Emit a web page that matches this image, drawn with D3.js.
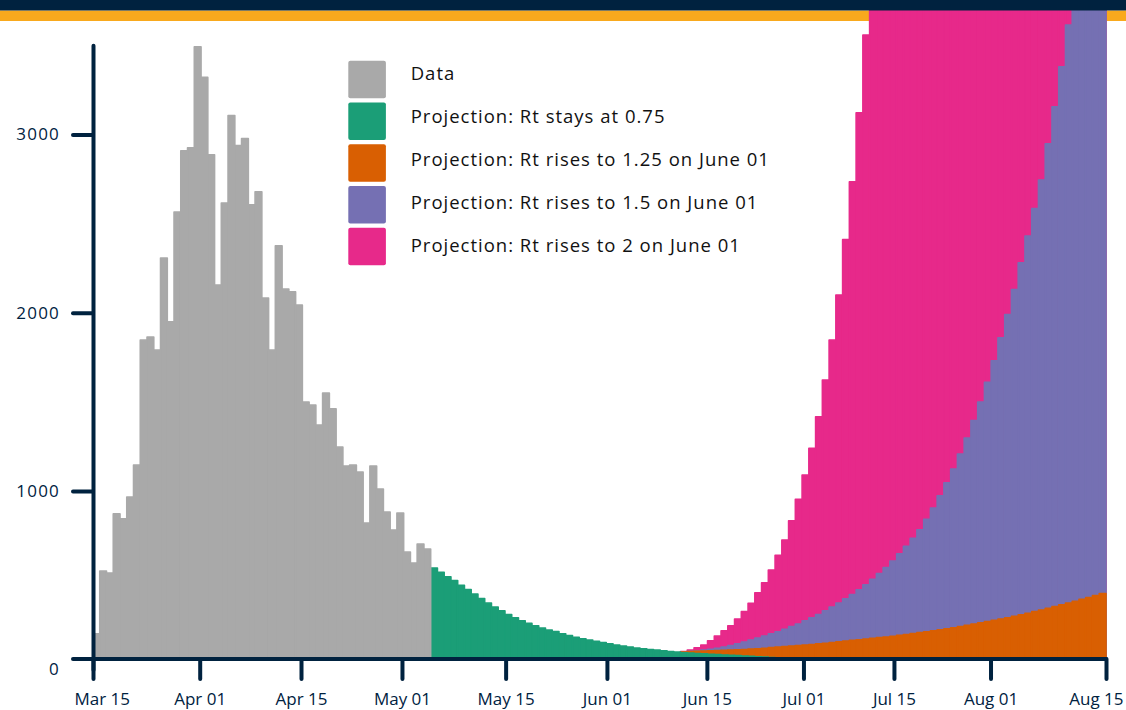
<!DOCTYPE html>
<html>
<head>
<meta charset="utf-8">
<script src="https://cdn.jsdelivr.net/npm/d3@7"></script>
<style>
  body { margin: 0; background: #fff; }
  svg { display: block; font-family: "Open Sans", sans-serif; }
</style>
</head>
<body>
<div class="d3Chart"></div>
<script>
// daily counts, day 0 = Mar 15
const observed = [
  199, 552, 541, 872, 844, 967, 1146, 1847, 1864, 1791,
  2307, 1949, 2565, 2908, 2925, 3491, 3320, 2886, 2156, 2616,
  3106, 2938, 2977, 2605, 2678, 2083, 1791, 2375, 2133, 2117,
  2044, 1500, 1483, 1371, 1550, 1461, 1247, 1141, 1146, 1107,
  821, 1141, 1012, 883, 782, 877, 658, 597, 703, 675
]
const projStart = 50
const rtStays075 = [
  569, 545, 520, 498, 472, 448, 422, 398, 372, 350,
  328, 308, 290, 273, 258, 245, 232, 221, 212, 200,
  190, 180, 172, 165, 158, 151, 144, 137, 131, 126,
  120, 116, 112, 108, 104, 100, 97, 93, 91, 89,
  87, 85, 83, 81, 79, 77, 75, 73, 71, 69,
  67, 65, 63, 61, 59, 57, 55, 53, 52, 50,
  49, 47, 46, 44, 43, 42, 40, 39, 38, 37,
  36, 35, 34, 33, 32, 31, 30, 29, 28, 27,
  26, 25, 25, 24, 23, 23, 22, 21, 21, 20,
  20, 19, 19, 18, 18, 17, 17, 16, 16, 15
]
const scenarioStart = 87
const rtRises125 = [
  98, 100, 101, 103, 104, 106, 107, 109, 110, 112,
  114, 116, 119, 122, 125, 128, 131, 134, 137, 140,
  144, 147, 151, 155, 159, 163, 166, 170, 174, 178,
  182, 186, 191, 196, 201, 206, 211, 216, 222, 227,
  233, 240, 247, 254, 261, 268, 275, 283, 290, 298,
  306, 315, 324, 333, 342, 352, 362, 372, 382, 393,
  403, 414, 425
]
const rtRises15 = [
  98, 101, 105, 109, 113, 118, 126, 134, 144, 154,
  165, 176, 187, 199, 211, 225, 240, 255, 272, 289,
  308, 328, 349, 372, 396, 420, 447, 475, 505, 537,
  571, 608, 648, 690, 735, 783, 842, 905, 973, 1046,
  1124, 1208, 1298, 1396, 1500, 1610, 1730, 1860, 1990, 2130,
  2280, 2430, 2585, 2745, 2947, 3155, 3379, 3614, 3860, 4120,
  4390, 4680, 4990
]
const rtRises2 = [
  100, 109, 121, 137, 161, 187, 216, 245, 283, 324,
  371, 430, 486, 557, 640, 726, 834, 954, 1090, 1240,
  1417, 1623, 1847, 2100, 2410, 2734, 3121, 3558, 4050, 4600,
  5200, 5870, 6600, 7400, 8270, 9200, 10200, 11250, 12350, 13500,
  14700, 15900, 17100, 18300, 19500, 20600, 21600, 22500, 23300, 23900,
  24400, 24700, 24900, 24900, 24700, 24400, 24000, 23400, 22700, 21900,
  21000, 20000, 19000
]
const totalDays = 150
const tickDays = [0, 15.8, 30.8, 45.75, 61.1, 76.1, 90.9, 105.2, 118.6, 132.9, 150]
const tickLabels = ['Mar 15', 'Apr 01', 'Apr 15', 'May 01', 'May 15', 'Jun 01',
  'Jun 15', 'Jul 01', 'Jul 15', 'Aug 01', 'Aug 15']
const yTicks = [0, 1000, 2000, 3000]
const legendLabels = [
  'Data',
  'Projection: Rt stays at 0.75',
  'Projection: Rt rises to 1.25 on June 01',
  'Projection: Rt rises to 1.5 on June 01',
  'Projection: Rt rises to 2 on June 01'
]

const colors = ['#a9a9a9', '#1b9e77', '#d95f02', '#7570b3', '#e7298a']
const navy = '#00223f'
const width = 1126
const height = 710
const axisY = 659

const x = d3.scaleLinear().domain([0, totalDays]).range([93, 1106])
const y = d3.scaleLinear().domain([0, 3500]).range([669.4, 45.3])

const svg = d3.select('.d3Chart')
  .append('svg')
  .attr('width', width)
  .attr('height', height)

// header stripes (the navy one goes on top at the end)
svg.append('rect')
  .attr('width', width)
  .attr('y', 10.5)
  .attr('height', 10.5)
  .attr('fill', '#f9a91d')

svg.append('clipPath')
  .attr('id', 'plot-clip')
  .append('rect')
  .attr('x', x.range()[0])
  .attr('y', 10)
  .attr('width', x.range()[1] - x.range()[0] + 1)
  .attr('height', axisY - 10)

const plot = svg.append('g').attr('clip-path', 'url(#plot-clip)')

// 绘制柱子
function drawBars (values, start, color) {
  plot.append('g')
    .selectAll('rect')
    .data(values.map((v, i) => ({ day: start + i, v })))
    .enter()
    .append('rect')
    .attr('x', d => x(d.day))
    .attr('width', d => x(d.day + 1) - x(d.day))
    .attr('y', d => y(d.v))
    .attr('height', d => y(0) - y(d.v))
    .attr('fill', color)
    .attr('stroke', color)
    .attr('stroke-width', 1.6)
    .attr('stroke-linejoin', 'round')
}

drawBars(rtRises2, scenarioStart, colors[4])
drawBars(rtRises15, scenarioStart, colors[3])
drawBars(rtRises125, scenarioStart, colors[2])
drawBars(rtStays075, projStart, colors[1])
drawBars(observed, 0, colors[0])

// y轴
const yAxis = svg.append('g')
  .attr('transform', `translate(${x.range()[0]},0)`)
  .call(d3.axisLeft(y)
    .tickValues(yTicks)
    .tickFormat(d3.format('d'))
    .tickSize(20)
    .tickSizeOuter(0)
    .tickPadding(13))
yAxis.select('.domain')
  .attr('stroke', navy)
  .attr('stroke-width', 4)
  .attr('stroke-linecap', 'round')
// zero has a label but no tick mark
yAxis.selectAll('.tick').filter(d => d === 0).select('line').remove()
yAxis.selectAll('.tick text').attr('letter-spacing', 1.2)

// x轴
const xAxis = svg.append('g')
  .attr('transform', `translate(0,${axisY})`)
  .call(d3.axisBottom(x)
    .tickValues(tickDays)
    .tickFormat((d, i) => tickLabels[i])
    .tickSize(20)
    .tickSizeOuter(0)
    .tickPadding(14))
xAxis.select('.domain').remove()
xAxis.append('line')
  .attr('x1', x.range()[0] - 20)
  .attr('x2', x.range()[1])
  .attr('stroke', navy)
  .attr('stroke-width', 4)
  .attr('stroke-linecap', 'round')

svg.selectAll('.tick line')
  .attr('stroke', navy)
  .attr('stroke-width', 4)
  .attr('stroke-linecap', 'round')
svg.selectAll('.tick text')
  .attr('fill', navy)
  .attr('font-size', 17)
  .attr('font-family', '"Open Sans", sans-serif')

// keep the end labels inside the picture
xAxis.selectAll('.tick text').each(function (d) {
  const w = this.getComputedTextLength()
  const left = x(d) - w / 2
  const right = x(d) + w / 2
  const minX = x.range()[0] - 19
  const maxX = width - 3
  if (left < minX) d3.select(this).attr('dx', minX - left)
  if (right > maxX) d3.select(this).attr('dx', maxX - right)
})

// 图例
const legend = svg.append('g')
legendLabels.forEach((label, i) => {
  legend.append('rect')
    .attr('x', 348.3)
    .attr('y', 60.7 + i * 41.75)
    .attr('width', 37.6)
    .attr('height', 37.6)
    .attr('rx', 2)
    .attr('fill', colors[i])
  legend.append('text')
    .attr('x', 410.7)
    .attr('y', 80 + i * 42.9)
    .attr('font-size', 18.5)
    .attr('letter-spacing', 1)
    .attr('fill', '#111')
    .text(label)
})

svg.append('rect')
  .attr('width', width)
  .attr('height', 10.5)
  .attr('fill', navy)
</script>
</body>
</html>
